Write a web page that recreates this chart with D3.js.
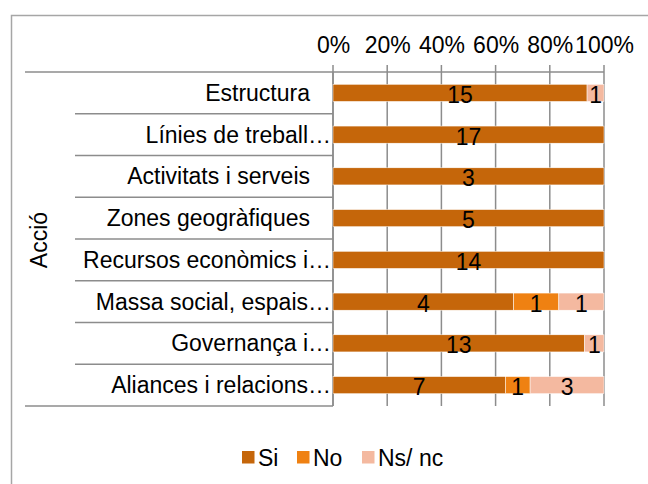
<!DOCTYPE html>
<html>
<head>
<meta charset="utf-8">
<script src="https://cdn.jsdelivr.net/npm/d3@7"></script>
<style>
  body { margin: 0; background: #fff; }
  text { font-family: "Liberation Sans", Arial, sans-serif; fill: #000; }
</style>
</head>
<body>
<svg id="chart"></svg>
<script>
// values
const categories = [
    "Estructura",
    "Línies de treball…",
    "Activitats i serveis",
    "Zones geogràfiques",
    "Recursos econòmics i…",
    "Massa social, espais…",
    "Governança i…",
    "Aliances i relacions…"
];
const si   = [15, 17, 3, 5, 14, 4, 13, 7];
const no   = [0, 0, 0, 0, 0, 1, 0, 1];
const nsnc = [1, 0, 0, 0, 0, 1, 1, 3];
const seriesNames = ["Si", "No", "Ns/ nc"];
const tickValues = [0, 0.2, 0.4, 0.6, 0.8, 1];
const groupLabel = "Acció";

const colors = ["#C5660A", "#EF8112", "#F4B9A0"];
const width = 648, height = 484;
const fontSize = 23;

const svg = d3.select("#chart")
    .attr("width", width)
    .attr("height", height);

// chart frame
svg.append("rect")
    .attr("x", 11.5).attr("y", 15.5)
    .attr("width", 700).attr("height", 600)
    .attr("fill", "#fff")
    .attr("stroke", "#a6a6a6")
    .attr("stroke-width", 1.5);

const rows = categories.map((c, i) => ({cat: c, Si: si[i], No: no[i], "Ns/ nc": nsnc[i]}));
const stack = d3.stack().keys(seriesNames).offset(d3.stackOffsetExpand);
const layers = stack(rows);

const x = d3.scaleLinear().domain([0, 1]).range([333, 604]);
const y = d3.scaleBand().domain(categories).range([72, 406]).paddingInner(0.59).paddingOuter(0.295);
const band = d3.scaleBand().domain(categories).range([72, 406]);

// vertical gridlines
svg.append("g")
    .selectAll("line")
    .data(tickValues)
    .join("line")
    .attr("x1", d => x(d)).attr("x2", d => x(d))
    .attr("y1", 65).attr("y2", 406)
    .attr("stroke", "#8c8c8c")
    .attr("stroke-width", 1.5);

// top value axis
const xAxis = d3.axisTop(x)
    .tickValues(tickValues)
    .tickFormat(d3.format(".0%"))
    .tickSize(0)
    .tickPadding(0);
const gx = svg.append("g").attr("transform", "translate(0,72)").call(xAxis);
gx.select(".domain").remove();
gx.selectAll("text")
    .attr("y", -19)
    .style("font-size", fontSize + "px")
    .style("font-family", "'Liberation Sans', Arial, sans-serif")
    .attr("fill", "#000");

svg.append("line")
    .attr("x1", 25).attr("x2", x(1))
    .attr("y1", 72).attr("y2", 72)
    .attr("stroke", "#8c8c8c").attr("stroke-width", 1.5);

// category axis separators
svg.append("g")
    .selectAll("line")
    .data(categories.slice(1))
    .join("line")
    .attr("x1", 75).attr("x2", 333)
    .attr("y1", d => band(d)).attr("y2", d => band(d))
    .attr("stroke", "#8c8c8c").attr("stroke-width", 1.5);

svg.append("line")
    .attr("x1", 25).attr("x2", 333)
    .attr("y1", 406).attr("y2", 406)
    .attr("stroke", "#8c8c8c").attr("stroke-width", 1.5);

svg.append("line")
    .attr("x1", 333).attr("x2", 333)
    .attr("y1", 72).attr("y2", 406)
    .attr("stroke", "#8c8c8c").attr("stroke-width", 1.5);

// category labels
svg.append("g")
    .selectAll("text")
    .data(categories)
    .join("text")
    .attr("x", d => d.endsWith("…") ? 331 : 310)
    .attr("y", d => band(d) + band.bandwidth() / 2)
    .attr("dy", "0.35em")
    .attr("text-anchor", "end")
    .style("font-size", fontSize + "px")
    .text(d => d);

svg.append("text")
    .attr("transform", "translate(47,240) rotate(-90)")
    .attr("text-anchor", "middle")
    .style("font-size", fontSize + "px")
    .text(groupLabel);

// stacked bars
const gLayers = svg.append("g")
    .selectAll("g")
    .data(layers)
    .join("g")
    .attr("fill", (d, i) => colors[i]);

gLayers.selectAll("rect")
    .data(d => d.filter(p => p[1] > p[0]))
    .join("rect")
    .attr("x", d => x(d[0]))
    .attr("y", d => y(d.data.cat))
    .attr("width", d => x(d[1]) - x(d[0]))
    .attr("height", y.bandwidth())
    .attr("stroke", "#fff")
    .attr("stroke-width", 0.5);

// data labels
layers.forEach(layer => {
    svg.append("g")
        .selectAll("text")
        .data(layer.filter(p => p[1] > p[0]))
        .join("text")
        .attr("x", d => (x(d[0]) + x(d[1])) / 2)
        .attr("y", d => y(d.data.cat) + y.bandwidth() / 2 + 2)
        .attr("dy", "0.35em")
        .attr("text-anchor", "middle")
        .style("font-size", fontSize + "px")
        .text(d => d.data[layer.key]);
});

// legend
const legend = svg.append("g")
    .selectAll("g")
    .data(seriesNames)
    .join("g")
    .attr("transform", (d, i) => `translate(${[242, 297, 362][i]},451)`);

legend.append("rect")
    .attr("width", 12.5).attr("height", 12.5)
    .attr("fill", (d, i) => colors[i]);

legend.append("text")
    .attr("x", 16).attr("y", 6.5)
    .attr("dy", "0.35em")
    .style("font-size", fontSize + "px")
    .text(d => d);
</script>
</body>
</html>
